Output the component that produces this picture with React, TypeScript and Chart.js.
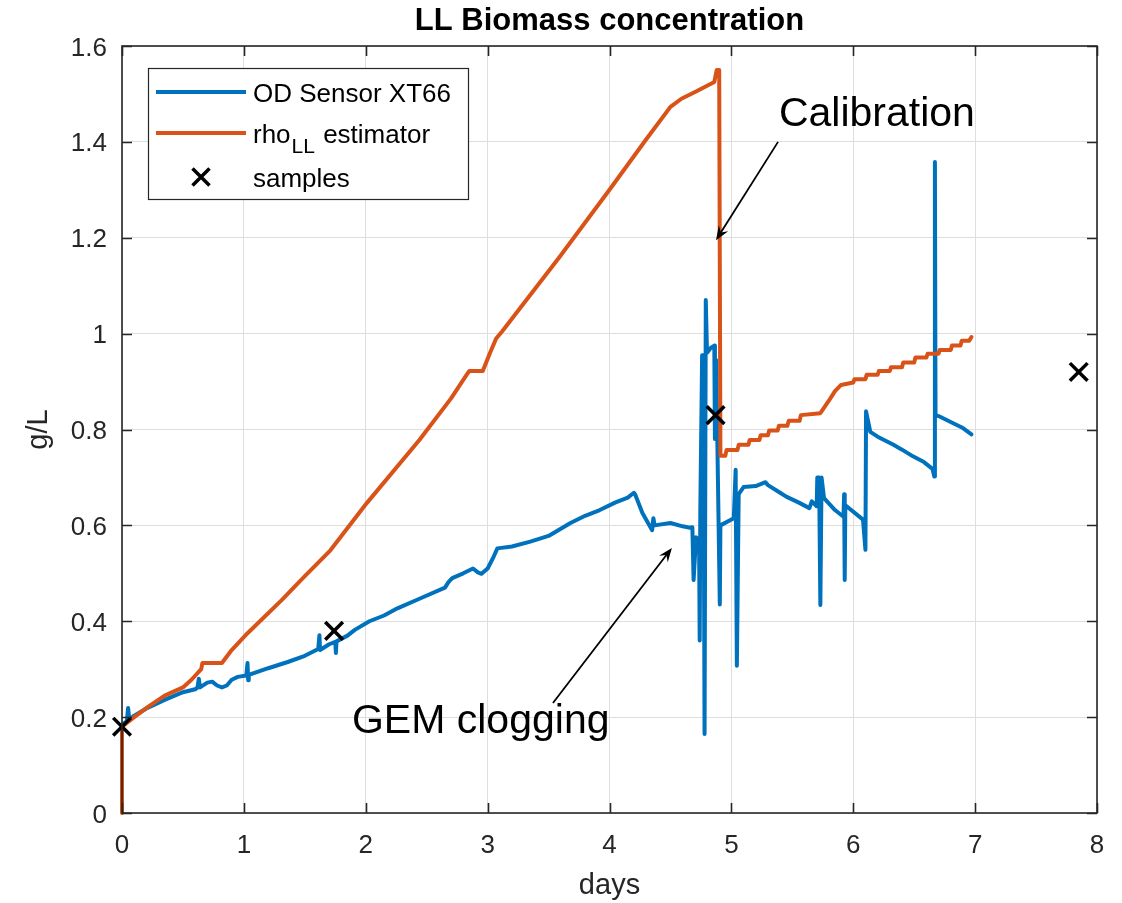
import React, { useEffect, useRef } from "react";
import { Chart, registerables } from "chart.js";

Chart.register(...registerables);

// ---------- data ----------
const odDays = [
  0.0, 0.04, 0.05, 0.06, 0.1, 0.2, 0.35, 0.5, 0.6, 0.62, 0.63, 0.64, 0.7, 0.74, 0.78, 0.82, 0.86, 0.9, 0.95,
  1.02, 1.03, 1.035, 1.04, 1.2, 1.36, 1.5, 1.61, 1.62, 1.625, 1.7, 1.75, 1.755, 1.76, 1.85, 1.91,
  2.03, 2.15, 2.26, 2.45, 2.65, 2.68, 2.71, 2.8, 2.88, 2.92, 2.95, 3.0, 3.05, 3.08, 3.2, 3.35, 3.5, 3.68,
  3.8, 3.92, 4.05, 4.15, 4.2, 4.21, 4.27, 4.35, 4.36, 4.37, 4.5, 4.6, 4.66, 4.68, 4.69, 4.71, 4.735, 4.74,
  4.745, 4.76, 4.77, 4.78, 4.79, 4.8, 4.83, 4.86, 4.865, 4.875, 4.905, 4.91, 5.02, 5.035, 5.045, 5.06,
  5.1, 5.2, 5.28, 5.3, 5.4, 5.45, 5.55, 5.64, 5.66, 5.7, 5.705, 5.72, 5.73, 5.74, 5.76, 5.85, 5.92,
  5.925, 5.93, 5.935, 6.08, 6.1, 6.105, 6.14, 6.2, 6.33, 6.4, 6.49, 6.58, 6.65, 6.665, 6.67, 6.675, 6.7,
  6.82, 6.9, 6.97,
];
const odValues = [
  0.184, 0.192, 0.219, 0.195, 0.203, 0.218, 0.236, 0.252, 0.258, 0.262, 0.28, 0.262, 0.272, 0.274, 0.266,
  0.262, 0.266, 0.278, 0.284, 0.287, 0.313, 0.277, 0.288, 0.302, 0.315, 0.328, 0.342, 0.371, 0.34, 0.352,
  0.357, 0.334, 0.358, 0.37, 0.382, 0.4, 0.412, 0.427, 0.448, 0.47, 0.482, 0.49, 0.5, 0.51, 0.502, 0.499,
  0.51, 0.535, 0.552, 0.556, 0.566, 0.578, 0.605, 0.62, 0.632, 0.648, 0.658, 0.668, 0.665, 0.626, 0.59,
  0.615, 0.6, 0.605, 0.598, 0.595, 0.596, 0.486, 0.575, 0.57, 0.36, 0.63, 0.955, 0.955, 0.165, 1.07, 0.96,
  0.97, 0.975, 0.78, 0.945, 0.435, 0.6, 0.615, 0.716, 0.307, 0.665, 0.68, 0.682, 0.69, 0.684, 0.668,
  0.66, 0.648, 0.636, 0.65, 0.64, 0.7, 0.7, 0.434, 0.7, 0.657, 0.632, 0.618, 0.665, 0.486, 0.642, 0.612,
  0.549, 0.838, 0.795, 0.785, 0.768, 0.758, 0.744, 0.732, 0.718, 0.702, 1.358, 0.83, 0.828, 0.813, 0.803,
  0.79,
];

const rhoDays = [
  0.0, 0.0, 0.1, 0.21, 0.35, 0.5, 0.57, 0.65, 0.66, 0.82, 0.9, 1.03, 1.31, 1.5, 1.71, 2.01, 2.44, 2.7,
  2.83, 2.85, 2.96, 3.02, 3.07, 3.12, 3.59, 4.0, 4.3, 4.5, 4.59, 4.71, 4.86, 4.88, 4.9, 4.91, 4.95, 4.96,
  5.05, 5.06, 5.14, 5.15, 5.23, 5.24, 5.3, 5.31, 5.38, 5.39, 5.46, 5.47, 5.56, 5.57, 5.73, 5.8, 5.85,
  5.9, 6.0, 6.01, 6.1, 6.11, 6.2, 6.21, 6.3, 6.31, 6.4, 6.41, 6.5, 6.51, 6.6, 6.61, 6.7, 6.71, 6.8, 6.81,
  6.88, 6.89, 6.95, 6.97,
];
const rhoValues = [
  0.0, 0.18, 0.2, 0.221, 0.245, 0.262, 0.278, 0.3, 0.313, 0.313, 0.34, 0.375, 0.444, 0.494, 0.548,
  0.647, 0.778, 0.865, 0.915, 0.922, 0.922, 0.96, 0.99, 1.005, 1.16, 1.3, 1.405, 1.473, 1.49, 1.505,
  1.525, 1.55, 1.55, 0.745, 0.745, 0.757, 0.757, 0.768, 0.768, 0.778, 0.778, 0.788, 0.788, 0.798, 0.798,
  0.808, 0.808, 0.818, 0.818, 0.83, 0.834, 0.86, 0.88, 0.893, 0.898, 0.905, 0.905, 0.914, 0.914, 0.922,
  0.922, 0.93, 0.93, 0.94, 0.94, 0.95, 0.95, 0.958, 0.958, 0.966, 0.966, 0.975, 0.975, 0.985, 0.985,
  0.993,
];

const sampleDays = [0.0, 1.74, 4.87, 7.85];
const sampleValues = [0.18, 0.38, 0.83, 0.92];

const xTickValues = [0, 1, 2, 3, 4, 5, 6, 7, 8];
const xTickLabels = ["0", "1", "2", "3", "4", "5", "6", "7", "8"];
const yTickValues = [0, 0.2, 0.4, 0.6, 0.8, 1, 1.2, 1.4, 1.6];
const yTickLabels = ["0", "0.2", "0.4", "0.6", "0.8", "1", "1.2", "1.4", "1.6"];

const seriesLabels = ["OD Sensor XT66", "rho_{LL} estimator", "samples"];
const titleText = "LL Biomass concentration";
const xTitle = "days";
const yTitle = "g/L";
const calibrationText = "Calibration";
const cloggingText = "GEM clogging";

// ---------- style ----------
const FONT = '"Liberation Sans", Arial, Helvetica, sans-serif';
const AXIS = "#262626";
const BLUE = "#0072BD";
const ORANGE = "#D95319";
const LINE_W = 4;

function drawX(ctx: CanvasRenderingContext2D, x: number, y: number, h: number, lw: number) {
  ctx.save();
  ctx.strokeStyle = "#000";
  ctx.lineWidth = lw;
  ctx.beginPath();
  ctx.moveTo(x - h, y - h);
  ctx.lineTo(x + h, y + h);
  ctx.moveTo(x - h, y + h);
  ctx.lineTo(x + h, y - h);
  ctx.stroke();
  ctx.restore();
}

function drawArrow(ctx: CanvasRenderingContext2D, x0: number, y0: number, x1: number, y1: number) {
  const ang = Math.atan2(y1 - y0, x1 - x0);
  const len = 14;
  const hw = 5.5;
  const notch = 9;
  ctx.save();
  ctx.strokeStyle = "#000";
  ctx.fillStyle = "#000";
  ctx.lineWidth = 1.8;
  ctx.beginPath();
  ctx.moveTo(x0, y0);
  ctx.lineTo(x1 - Math.cos(ang) * notch, y1 - Math.sin(ang) * notch);
  ctx.stroke();
  ctx.translate(x1, y1);
  ctx.rotate(ang);
  ctx.beginPath();
  ctx.moveTo(0, 0);
  ctx.lineTo(-len, hw);
  ctx.lineTo(-notch, 0);
  ctx.lineTo(-len, -hw);
  ctx.closePath();
  ctx.fill();
  ctx.restore();
}

function drawTexLabel(ctx: CanvasRenderingContext2D, text: string, x: number, y: number, size: number) {
  // supports a_{b} subscripts
  const parts = text.split(/_\{([^}]*)\}/);
  let cx = x;
  parts.forEach((p, i) => {
    if (i % 2 === 0) {
      ctx.font = `${size}px ${FONT}`;
      ctx.fillText(p, cx, y);
      cx += ctx.measureText(p).width;
    } else {
      const s = Math.round(size * 0.8);
      ctx.font = `${s}px ${FONT}`;
      ctx.fillText(p, cx + 1, y + 10);
      cx += ctx.measureText(p).width + 2;
    }
  });
}

const decorPlugin = {
  id: "matlabDecor",
  afterDraw(chart: any) {
    const ctx: CanvasRenderingContext2D = chart.ctx;
    const ca = chart.chartArea;
    const xs = chart.scales.x;
    const ys = chart.scales.y;
    ctx.save();

    // axes box + inward ticks
    ctx.strokeStyle = AXIS;
    ctx.lineWidth = 1.6;
    ctx.strokeRect(ca.left, ca.top, ca.right - ca.left, ca.bottom - ca.top);
    const tl = 10;
    ctx.beginPath();
    xTickValues.forEach((v) => {
      const px = Math.round(xs.getPixelForValue(v)) + 0.5;
      ctx.moveTo(px, ca.bottom);
      ctx.lineTo(px, ca.bottom - tl);
      ctx.moveTo(px, ca.top);
      ctx.lineTo(px, ca.top + tl);
    });
    yTickValues.forEach((v) => {
      const py = Math.round(ys.getPixelForValue(v)) + 0.5;
      ctx.moveTo(ca.left, py);
      ctx.lineTo(ca.left + tl, py);
      ctx.moveTo(ca.right, py);
      ctx.lineTo(ca.right - tl, py);
    });
    ctx.stroke();

    // tick labels
    ctx.fillStyle = AXIS;
    ctx.font = `26px ${FONT}`;
    ctx.textAlign = "center";
    ctx.textBaseline = "alphabetic";
    xTickValues.forEach((v, i) => {
      ctx.fillText(xTickLabels[i], xs.getPixelForValue(v), ca.bottom + 40);
    });
    ctx.textAlign = "right";
    yTickValues.forEach((v, i) => {
      ctx.fillText(yTickLabels[i], ca.left - 15, ys.getPixelForValue(v) + 9.5);
    });

    // axis titles
    ctx.font = `29px ${FONT}`;
    ctx.textAlign = "center";
    ctx.fillText(xTitle, (ca.left + ca.right) / 2, ca.bottom + 81);
    ctx.save();
    ctx.translate(ca.left - 75, (ca.top + ca.bottom) / 2);
    ctx.rotate(-Math.PI / 2);
    ctx.fillText(yTitle, 0, 0);
    ctx.restore();

    // title
    ctx.fillStyle = "#000";
    ctx.font = `bold 31px ${FONT}`;
    ctx.fillText(titleText, (ca.left + ca.right) / 2, ca.top - 16);

    // legend
    const lx = ca.left + 26;
    const ly = ca.top + 22;
    const lw = 320;
    const lh = 131;
    ctx.fillStyle = "#fff";
    ctx.fillRect(lx, ly, lw, lh);
    ctx.strokeStyle = AXIS;
    ctx.lineWidth = 1.2;
    ctx.strokeRect(lx + 0.5, ly + 0.5, lw, lh);
    const rows = [24, 65, 109];
    const dsets = chart.data.datasets;
    ctx.textAlign = "left";
    ctx.textBaseline = "alphabetic";
    rows.forEach((ry, i) => {
      const ds = dsets[i];
      const y = ly + ry;
      if (ds.showLine !== false && i < 2) {
        ctx.strokeStyle = ds.borderColor;
        ctx.lineWidth = LINE_W;
        ctx.beginPath();
        ctx.moveTo(lx + 8, y);
        ctx.lineTo(lx + 98, y);
        ctx.stroke();
      } else {
        drawX(ctx, lx + 53, y, 8.5, 3.5);
      }
      ctx.fillStyle = "#000";
      drawTexLabel(ctx, ds.label, lx + 105, y + 9.5, 26);
    });

    // annotations
    ctx.fillStyle = "#000";
    ctx.font = `41px ${FONT}`;
    ctx.textAlign = "left";
    ctx.fillText(calibrationText, xs.getPixelForValue(5.39), ys.getPixelForValue(1.433));
    ctx.fillText(cloggingText, xs.getPixelForValue(1.887), ys.getPixelForValue(0.167));
    drawArrow(
      ctx,
      xs.getPixelForValue(5.383),
      ys.getPixelForValue(1.4),
      xs.getPixelForValue(4.874),
      ys.getPixelForValue(1.195)
    );
    drawArrow(
      ctx,
      xs.getPixelForValue(3.536),
      ys.getPixelForValue(0.2295),
      xs.getPixelForValue(4.512),
      ys.getPixelForValue(0.553)
    );

    ctx.restore();
  },
};

export default function App() {
  const ref = useRef<HTMLCanvasElement | null>(null);

  useEffect(() => {
    if (!ref.current) return;
    const toPts = (xs: number[], ys: number[]) => xs.map((x, i) => ({ x, y: ys[i] }));
    const chart = new Chart(ref.current, {
      type: "line",
      data: {
        datasets: [
          {
            label: seriesLabels[0],
            data: toPts(odDays, odValues),
            borderColor: BLUE,
            backgroundColor: BLUE,
            borderWidth: LINE_W,
            pointRadius: 0,
            tension: 0,
            borderJoinStyle: "round",
            borderCapStyle: "round",
            order: 3,
            clip: false,
          },
          {
            label: seriesLabels[1],
            data: toPts(rhoDays, rhoValues),
            borderColor: ORANGE,
            backgroundColor: ORANGE,
            borderWidth: LINE_W,
            pointRadius: 0,
            tension: 0,
            borderJoinStyle: "round",
            borderCapStyle: "round",
            order: 2,
            clip: false,
          },
          {
            label: seriesLabels[2],
            data: toPts(sampleDays, sampleValues),
            showLine: false,
            pointStyle: "crossRot",
            pointRadius: 12.5,
            pointBorderWidth: 3.5,
            borderColor: "#000",
            backgroundColor: "#000",
            order: 1,
            clip: false,
          },
        ],
      } as any,
      options: {
        responsive: false,
        animation: false,
        events: [],
        layout: { padding: { top: 46, right: 25, left: 0, bottom: 0 } },
        plugins: {
          legend: { display: false },
          title: { display: false },
          tooltip: { enabled: false },
        },
        scales: {
          x: {
            type: "linear",
            min: 0,
            max: 8,
            afterBuildTicks: (s: any) => {
              s.ticks = xTickValues.map((v) => ({ value: v }));
            },
            ticks: { display: false },
            grid: { color: "#dedede", lineWidth: 1, drawTicks: false },
            border: { display: false },
            afterFit: (s: any) => {
              s.height = 90;
            },
          },
          y: {
            type: "linear",
            min: 0,
            max: 1.6,
            afterBuildTicks: (s: any) => {
              s.ticks = yTickValues.map((v) => ({ value: v }));
            },
            ticks: { display: false },
            grid: { color: "#dedede", lineWidth: 1, drawTicks: false },
            border: { display: false },
            afterFit: (s: any) => {
              s.width = 122;
            },
          },
        },
      } as any,
      plugins: [decorPlugin],
    });
    return () => chart.destroy();
  }, []);

  return (
    <div style={{ position: "absolute", left: 0, top: 0, width: 1122, height: 903, background: "#fff" }}>
      <canvas ref={ref} width={1122} height={903} style={{ display: "block" }} />
    </div>
  );
}
